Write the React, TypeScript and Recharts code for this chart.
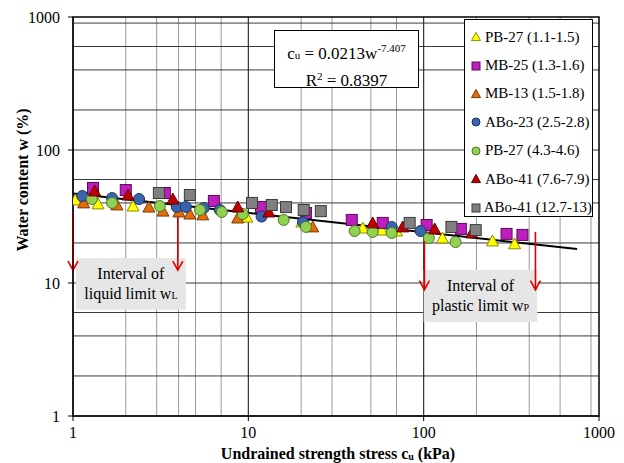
import React from "react";
import { ScatterChart, Scatter, XAxis, YAxis, CartesianGrid, ReferenceLine, ReferenceArea } from "recharts";

const FONT = '"Liberation Serif", "Times New Roman", serif';

// --- data (cu in kPa, w in %) ---
const pb27aCu = [1.03, 1.39, 2.2, 9.8, 20.2, 44.9, 57.6, 70, 128, 247, 330];
const pb27aW = [42.1, 39.3, 37.9, 31.3, 28.7, 25.9, 25, 24.6, 21.8, 20.7, 19.7];

const mb25Cu = [1.3, 2.0, 3.34, 6.36, 11.8, 21.3, 38.9, 58.4, 104, 163, 297, 366];
const mb25W = [51.8, 50, 47.5, 41.4, 37.3, 33.6, 29.8, 28.3, 27.3, 25.5, 23.4, 23];

const mb13Cu = [1.15, 1.78, 2.71, 3.26, 4.02, 4.64, 5.5, 8.7, 23.3];
const mb13W = [40, 38.6, 37.2, 34.7, 34.2, 33, 32.5, 30.8, 26.4];

const abo23Cu = [1.13, 1.67, 2.38, 3.91, 4.4, 5.57, 6.88, 11.9, 20.5, 65.7, 96];
const abo23W = [45.1, 43.5, 42.8, 37.3, 37.3, 36.6, 35.4, 31.6, 28.7, 26.4, 24.6];

const pb27bCu = [1.28, 1.67, 3.13, 5.3, 7.06, 9.3, 15.9, 21.3, 40.4, 51.2, 65.7, 107, 152];
const pb27bW = [42.8, 40, 37.9, 35.4, 34.2, 33, 29.8, 26.4, 24.6, 24.2, 23.8, 21.8, 20.3];

const abo41aCu = [1.33, 2.06, 3.71, 8.7, 13.1, 51.2, 75.9, 115.5, 188];
const abo41aW = [49.2, 45.9, 42.8, 37.3, 34.2, 28.3, 26.4, 25.5, 23.8];

const abo41bCu = [3.09, 4.64, 10.5, 13.6, 16.4, 20.7, 25.9, 83.2, 144, 198];
const abo41bW = [47.5, 45.9, 40, 38.6, 37.2, 35.4, 34.7, 28.3, 26.4, 25];

const trendCu = [1, 750];
const trendW = [47, 18];

// red arrows: cu, top w, bottom w
const arrowCu = [1, 3.96, 101, 434];
const arrowTopW = [34, 32.5, 24.2, 24.2];
const arrowBottomW = [12.5, 12.5, 8.9, 8.9];

const majorTicks = [1, 10, 100, 1000];
const gridValues = [2, 3, 4, 5, 6, 7, 8, 9, 10, 20, 30, 40, 50, 60, 70, 80, 90, 100, 200, 300, 400, 500, 600, 700, 800, 900];
const innerMajors = [10, 100];

const zip = (cu: number[], w: number[]) => cu.map((c, i) => ({ cu: c, w: w[i] }));

type Kind = "triangle" | "square" | "circle";

const series: { name: string; kind: Kind; fill: string; stroke: string; data: { cu: number; w: number }[] }[] = [
  { name: "PB-27 (1.1-1.5)", kind: "triangle", fill: "#FFFF00", stroke: "#8C8C00", data: zip(pb27aCu, pb27aW) },
  { name: "MB-25 (1.3-1.6)", kind: "square", fill: "#BE1EBE", stroke: "#5A0A5A", data: zip(mb25Cu, mb25W) },
  { name: "MB-13 (1.5-1.8)", kind: "triangle", fill: "#E46C0A", stroke: "#7A3A05", data: zip(mb13Cu, mb13W) },
  { name: "ABo-23 (2.5-2.8)", kind: "circle", fill: "#3C64AE", stroke: "#1E3464", data: zip(abo23Cu, abo23W) },
  { name: "PB-27 (4.3-4.6)", kind: "circle", fill: "#92D050", stroke: "#4E7A2A", data: zip(pb27bCu, pb27bW) },
  { name: "ABo-41 (7.6-7.9)", kind: "triangle", fill: "#C00000", stroke: "#600000", data: zip(abo41aCu, abo41aW) },
  { name: "ABo-41 (12.7-13)", kind: "square", fill: "#808080", stroke: "#3A3A3A", data: zip(abo41bCu, abo41bW) },
];

const Marker = ({ cx, cy, kind, fill, stroke, r = 5.5 }: any) => {
  if (cx == null || cy == null) return null;
  if (kind === "circle") return <circle cx={cx} cy={cy} r={r} fill={fill} stroke={stroke} strokeWidth={1} />;
  if (kind === "square")
    return <rect x={cx - r} y={cy - r} width={r * 2} height={r * 2} fill={fill} stroke={stroke} strokeWidth={1} />;
  const h = r * 1.8;
  return (
    <polygon
      points={`${cx},${cy - h / 2 - 1} ${cx - r - 0.5},${cy + h / 2} ${cx + r + 0.5},${cy + h / 2}`}
      fill={fill}
      stroke={stroke}
      strokeWidth={1}
    />
  );
};

const Arrow = (props: any) => {
  const { x1, y1, x2, y2 } = props;
  if (x1 == null) return null;
  return (
    <g>
      <line x1={x1} y1={y1} x2={x2} y2={y2} stroke="#E00000" strokeWidth={1.6} />
      <polyline
        points={`${x2 - 5},${y2 - 9} ${x2},${y2} ${x2 + 5},${y2 - 9}`}
        fill="none"
        stroke="#E00000"
        strokeWidth={1.6}
      />
    </g>
  );
};

const BoxText = (lines: [string, string, string]) => (props: any) => {
  const vb = props.viewBox;
  if (!vb) return null;
  const cx = vb.x + vb.width / 2;
  const cy = vb.y + vb.height / 2;
  return (
    <text x={cx} fontFamily={FONT} fontSize={16} fill="#000" textAnchor="middle">
      <tspan x={cx} y={cy - 5}>{lines[0]}</tspan>
      <tspan x={cx} y={cy + 15}>
        {lines[1]}
        <tspan fontSize={10}>{lines[2]}</tspan>
      </tspan>
    </text>
  );
};

const tickStyle = { fontFamily: FONT, fontSize: 16, fill: "#000" };

export default function App() {
  return (
    <div style={{ position: "absolute", left: 0, top: 0, width: 624, height: 463, background: "#fff" }}>
      <ScatterChart width={624} height={463} margin={{ top: 17, right: 25, left: 0, bottom: 0 }}>
        <CartesianGrid horizontal={false} verticalValues={gridValues} stroke="#9A9A9A" strokeDasharray="" />
        <CartesianGrid vertical={false} horizontalValues={gridValues} stroke="#3A3A3A" strokeDasharray="" />
        <CartesianGrid horizontal={false} verticalValues={innerMajors} stroke="#222" strokeDasharray="" />
        <XAxis
          type="number"
          dataKey="cu"
          scale="log"
          domain={[1, 1000]}
          ticks={majorTicks}
          allowDataOverflow
          height={47}
          tick={tickStyle}
          tickSize={5}
          tickMargin={6}
          stroke="#000"
          label={() => (
            <text x={338} y={453} textAnchor="middle" dominantBaseline="central" fontFamily={FONT} fontSize={16} fontWeight="bold">
              Undrained strength stress c<tspan fontSize={10} dy={3}>u</tspan>
              <tspan dy={-3}> (kPa)</tspan>
            </text>
          )}
        />
        <YAxis
          type="number"
          dataKey="w"
          scale="log"
          domain={[1, 1000]}
          ticks={majorTicks}
          allowDataOverflow
          width={73}
          tick={tickStyle}
          tickSize={5}
          tickMargin={8}
          stroke="#000"
          label={() => (
            <text
              x={22}
              y={180}
              transform="rotate(-90 22 180)"
              textAnchor="middle"
              dominantBaseline="central"
              fontFamily={FONT}
              fontSize={16}
              fontWeight="bold"
            >
              Water content w (%)
            </text>
          )}
        />

        <ReferenceArea
          x1={1.04}
          x2={4.4}
          y1={6.3}
          y2={15.4}
          fill="#E6E6E6"
          fillOpacity={1}
          stroke="none"
          label={BoxText(["Interval of", "liquid limit w", "L"])}
        />
        <ReferenceArea
          x1={100}
          x2={445}
          y1={5.1}
          y2={12.5}
          fill="#E6E6E6"
          fillOpacity={1}
          stroke="none"
          label={BoxText(["Interval of", "plastic limit w", "P"])}
        />

        {series.map((s) => (
          <Scatter
            key={s.name}
            name={s.name}
            data={s.data}
            isAnimationActive={false}
            shape={(p: any) => <Marker cx={p.cx} cy={p.cy} kind={s.kind} fill={s.fill} stroke={s.stroke} />}
          />
        ))}

        <ReferenceLine
          segment={[
            { x: trendCu[0], y: trendW[0] },
            { x: trendCu[1], y: trendW[1] },
          ]}
          stroke="#000"
          strokeWidth={2}
        />

        {arrowCu.map((c, i) => (
          <ReferenceLine
            key={`ar${i}`}
            segment={[
              { x: c, y: arrowTopW[i] },
              { x: c, y: arrowBottomW[i] },
            ]}
            shape={Arrow}
          />
        ))}

        <ReferenceArea x1={1} x2={1000} y1={1} y2={1000} fill="none" stroke="#000" strokeWidth={1.5} />
      </ScatterChart>

      <div
        style={{
          position: "absolute",
          left: 274,
          top: 30,
          width: 145,
          height: 58,
          boxSizing: "border-box",
          border: "1.5px solid #000",
          background: "#fff",
          fontFamily: FONT,
          fontSize: 17,
          textAlign: "center",
          lineHeight: "21px",
          paddingTop: 7,
        }}
      >
        <div>
          c<span style={{ fontSize: 11 }}>u</span> = 0.0213w<sup style={{ fontSize: 11, verticalAlign: "7px" }}>-7.407</sup>
        </div>
        <div>
          R<sup style={{ fontSize: 11, verticalAlign: "6px" }}>2</sup> = 0.8397
        </div>
      </div>

      <div
        style={{
          position: "absolute",
          left: 464,
          top: 19,
          width: 129,
          height: 198,
          boxSizing: "border-box",
          border: "1.5px solid #000",
          background: "#fff",
          fontFamily: FONT,
          fontSize: 15,
          paddingTop: 3,
        }}
      >
        {series.map((s) => (
          <div key={s.name} style={{ height: 28.4, display: "flex", alignItems: "center", whiteSpace: "nowrap" }}>
            <svg width={16} height={12} style={{ marginLeft: 3 }}>
              <Marker cx={8} cy={6} kind={s.kind} fill={s.fill} stroke={s.stroke} r={4} />
            </svg>
            <span style={{ marginLeft: 1 }}>{s.name}</span>
          </div>
        ))}
      </div>
    </div>
  );
}
